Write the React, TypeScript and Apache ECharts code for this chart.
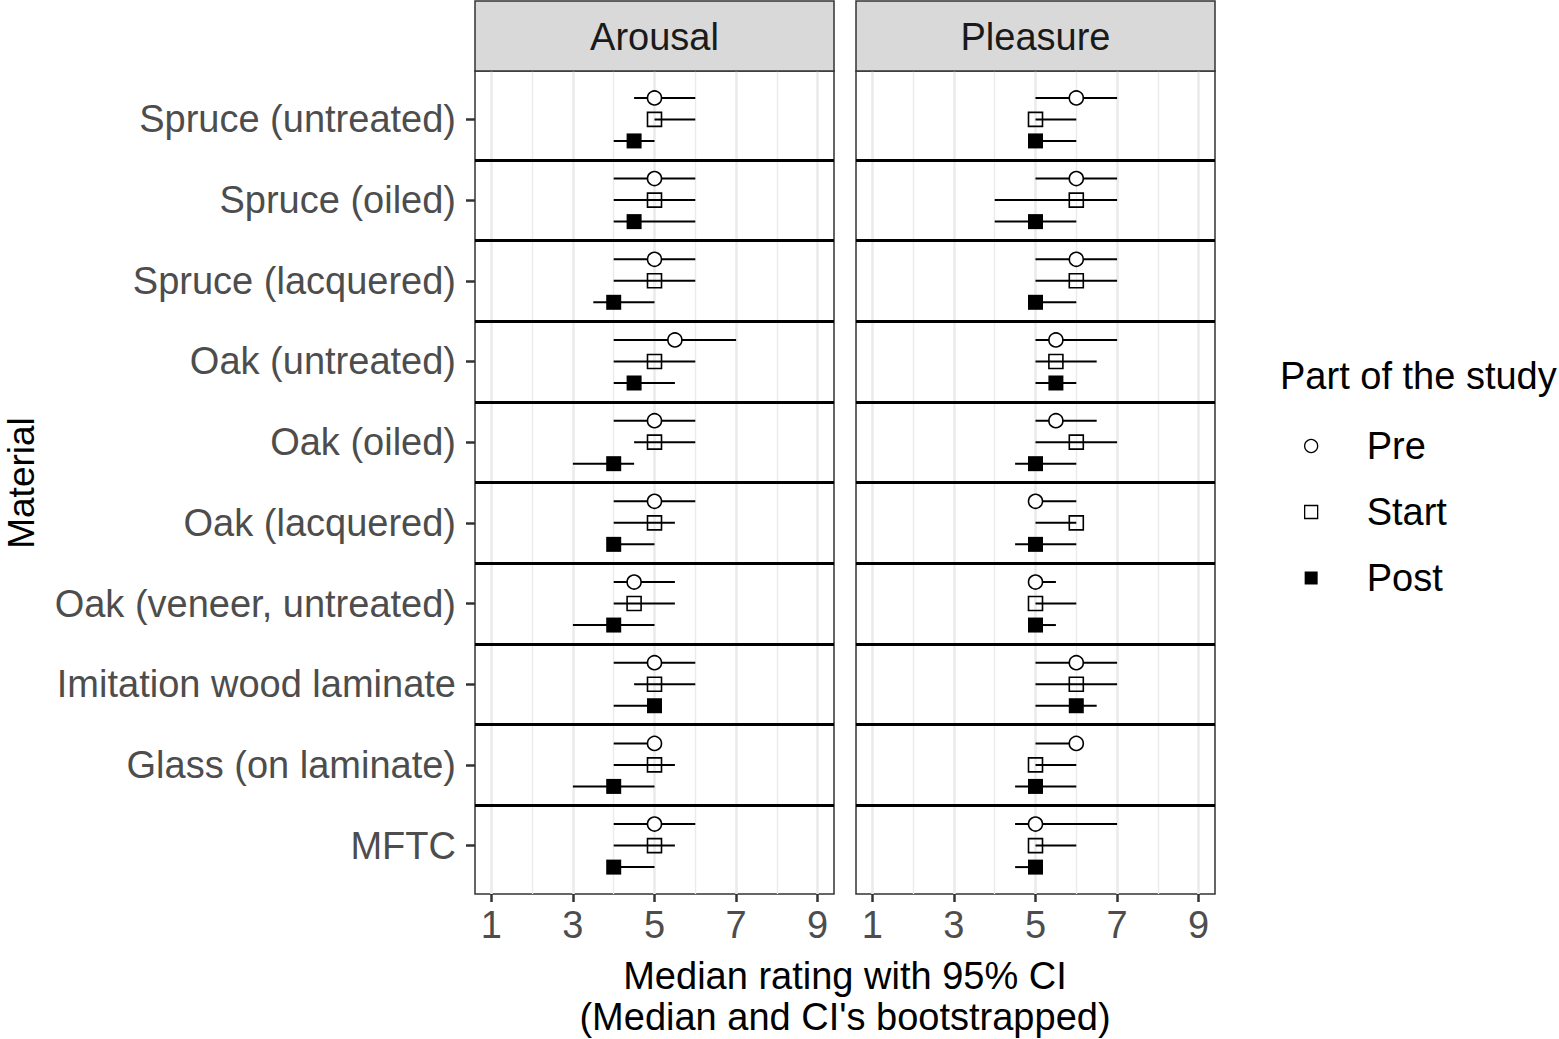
import React, { useEffect, useRef } from "react";
import * as echarts from "echarts";

const FONT = "'Liberation Sans', Arial, sans-serif";
const FS = 38;

const materials = [
  "Spruce (untreated)",
  "Spruce (oiled)",
  "Spruce (lacquered)",
  "Oak (untreated)",
  "Oak (oiled)",
  "Oak (lacquered)",
  "Oak (veneer, untreated)",
  "Imitation wood laminate",
  "Glass (on laminate)",
  "MFTC",
];
const panels = ["Arousal", "Pleasure"];
const groups = ["Pre", "Start", "Post"];
const xTickValues = [1, 3, 5, 7, 9];
const xGridValues = [1, 2, 3, 4, 5, 6, 7, 8, 9];
const rowSeparators = [1.5, 2.5, 3.5, 4.5, 5.5, 6.5, 7.5, 8.5, 9.5];

// [median, lower CI, upper CI] per material
const arousalPre = [[5, 4.5, 6], [5, 4, 6], [5, 4, 6], [5.5, 4, 7], [5, 4, 6], [5, 4, 6], [4.5, 4, 5.5], [5, 4, 6], [5, 4, 5], [5, 4, 6]];
const arousalStart = [[5, 5, 6], [5, 4, 6], [5, 4, 6], [5, 4, 6], [5, 4.5, 6], [5, 4, 5.5], [4.5, 4, 5.5], [5, 4.5, 6], [5, 4, 5.5], [5, 4, 5.5]];
const arousalPost = [[4.5, 4, 5], [4.5, 4, 6], [4, 3.5, 5], [4.5, 4, 5.5], [4, 3, 4.5], [4, 4, 5], [4, 3, 5], [5, 4, 5], [4, 3, 5], [4, 4, 5]];
const pleasurePre = [[6, 5, 7], [6, 5, 7], [6, 5, 7], [5.5, 5, 7], [5.5, 5, 6.5], [5, 5, 6], [5, 5, 5.5], [6, 5, 7], [6, 5, 6], [5, 4.5, 7]];
const pleasureStart = [[5, 5, 6], [6, 4, 7], [6, 5, 7], [5.5, 5, 6.5], [6, 5, 7], [6, 5, 6], [5, 5, 6], [6, 5, 7], [5, 5, 6], [5, 5, 6]];
const pleasurePost = [[5, 5, 6], [5, 4, 6], [5, 5, 6], [5.5, 5, 6], [5, 4.5, 6], [5, 4.5, 6], [5, 5, 5.5], [6, 5, 6.5], [5, 4.5, 6], [5, 4.5, 5]];

const panelData = [
  [arousalPre, arousalStart, arousalPost],
  [pleasurePre, pleasureStart, pleasurePost],
];

const DODGE = 0.8 / 3;
const dodgeOffsets = [-DODGE, 0, DODGE];

const symbolStyles = [
  { symbol: "circle", size: 14, itemStyle: { color: "#ffffff", borderColor: "#000", borderWidth: 1.6, opacity: 1 } },
  { symbol: "rect", size: 14, itemStyle: { color: "rgba(0,0,0,0)", borderColor: "#000", borderWidth: 1.6, opacity: 1 } },
  { symbol: "rect", size: 15, itemStyle: { color: "#000", borderColor: "#000", borderWidth: 0, opacity: 1 } },
];

const GRID_LEFTS = [475, 856];
const GRID_TOP = 71;
const GRID_W = 359;
const GRID_H = 823;

function buildOption() {
  const series: any[] = [];
  panels.forEach((_, p) => {
    // background grid lines
    series.push({
      type: "scatter",
      xAxisIndex: p,
      yAxisIndex: p,
      data: [],
      silent: true,
      z: 1,
      markLine: {
        silent: true,
        z: 1,
        symbol: ["none", "none"],
        label: { show: false },
        emphasis: { disabled: true },
        animation: false,
        data: xGridValues.map((v) => ({
          xAxis: v,
          lineStyle: { color: "#EBEBEB", width: v % 2 === 1 ? 2.6 : 1.4, type: "solid", opacity: 1 },
        })),
      },
    });
    // row separators
    series.push({
      type: "scatter",
      xAxisIndex: p,
      yAxisIndex: p,
      data: [],
      silent: true,
      z: 2,
      markLine: {
        silent: true,
        z: 2,
        symbol: ["none", "none"],
        label: { show: false },
        emphasis: { disabled: true },
        animation: false,
        data: rowSeparators.map((v) => ({
          yAxis: v,
          lineStyle: { color: "#000", width: 3, type: "solid", opacity: 1 },
        })),
      },
    });
    // CI lines
    groups.forEach((g, gi) => {
      const rows = panelData[p][gi];
      series.push({
        type: "custom",
        name: g + "-ci",
        xAxisIndex: p,
        yAxisIndex: p,
        z: 3,
        silent: true,
        encode: { x: [0, 1], y: 2 },
        data: rows.map((r, i) => [r[1], r[2], i + 1 + dodgeOffsets[gi]]),
        renderItem: (params: any, api: any) => {
          const a = api.coord([api.value(0), api.value(2)]);
          const b = api.coord([api.value(1), api.value(2)]);
          return {
            type: "line",
            shape: { x1: a[0], y1: a[1], x2: b[0], y2: b[1] },
            style: { stroke: "#000", lineWidth: 2 },
          };
        },
      });
    });
    // points
    groups.forEach((g, gi) => {
      const rows = panelData[p][gi];
      const st = symbolStyles[gi];
      series.push({
        type: "scatter",
        name: g,
        xAxisIndex: p,
        yAxisIndex: p,
        z: 4,
        symbol: st.symbol,
        symbolSize: st.size,
        itemStyle: st.itemStyle,
        emphasis: { disabled: true },
        data: rows.map((r, i) => [r[0], i + 1 + dodgeOffsets[gi]]),
      });
    });
  });

  const rowPositions = materials.map((_, i) => i + 1);

  return {
    animation: false,
    backgroundColor: "#ffffff",
    textStyle: { fontFamily: FONT },
    grid: GRID_LEFTS.map((left) => ({
      left,
      top: GRID_TOP,
      width: GRID_W,
      height: GRID_H,
      show: true,
      backgroundColor: "#ffffff",
      borderColor: "#333333",
      borderWidth: 1.5,
    })),
    xAxis: GRID_LEFTS.map((_, i) => ({
      gridIndex: i,
      type: "value",
      min: 0.6,
      max: 9.4,
      axisLine: { show: false },
      splitLine: { show: false },
      axisTick: {
        show: true,
        length: 8,
        customValues: xTickValues,
        lineStyle: { color: "#333333", width: 2.5 },
      },
      axisLabel: {
        customValues: xTickValues,
        fontSize: FS,
        color: "#4D4D4D",
        margin: 12,
        fontFamily: FONT,
      },
    })),
    yAxis: GRID_LEFTS.map((_, i) => ({
      gridIndex: i,
      type: "value",
      min: 0.4,
      max: 10.6,
      inverse: true,
      axisLine: { show: false },
      splitLine: { show: false },
      axisTick: {
        show: i === 0,
        length: 9,
        customValues: rowPositions,
        lineStyle: { color: "#333333", width: 2.5 },
      },
      axisLabel: {
        show: i === 0,
        customValues: rowPositions,
        formatter: (v: number) => materials[Math.round(v) - 1] ?? "",
        fontSize: FS,
        color: "#4D4D4D",
        margin: 19,
        fontFamily: FONT,
      },
    })),
    title: [
      {
        text: "Part of the study",
        left: 1280,
        top: 357,
        padding: 0,
        textStyle: { fontSize: FS, fontWeight: "normal", color: "#000", fontFamily: FONT },
      },
    ],
    legend: {
      orient: "vertical",
      left: 1304,
      top: 426,
      itemWidth: 13,
      itemHeight: 13,
      itemGap: 26,
      selectedMode: false,
      padding: 0,
      textStyle: { fontSize: FS, color: "#000", fontFamily: FONT, lineHeight: 40, padding: [0, 0, 0, 44] },
      data: [
        { name: "Pre", icon: "circle", itemStyle: { color: "#fff", borderColor: "#000", borderWidth: 1.3, opacity: 1 } },
        { name: "Start", icon: "rect", itemStyle: { color: "#fff", borderColor: "#000", borderWidth: 1.3, opacity: 1 } },
        { name: "Post", icon: "rect", itemStyle: { color: "#000", borderColor: "#000", borderWidth: 0, opacity: 1 } },
      ],
    },
    graphic: [
      ...panels.flatMap((name, i) => [
        {
          type: "rect",
          shape: { x: GRID_LEFTS[i], y: 1, width: GRID_W, height: 70 },
          style: { fill: "#D9D9D9", stroke: "#333333", lineWidth: 1.5 },
          z: 10,
        },
        {
          type: "text",
          x: GRID_LEFTS[i] + GRID_W / 2,
          y: 37,
          z: 11,
          style: {
            text: name,
            fontSize: FS,
            fontFamily: FONT,
            fill: "#1A1A1A",
            textAlign: "center",
            textVerticalAlign: "middle",
            verticalAlign: "middle",
          },
        },
      ]),
      {
        type: "text",
        x: 845,
        y: 976,
        style: {
          text: "Median rating with 95% CI",
          fontSize: FS,
          fontFamily: FONT,
          fill: "#000",
          textAlign: "center",
          textVerticalAlign: "middle",
          verticalAlign: "middle",
        },
      },
      {
        type: "text",
        x: 845,
        y: 1017,
        style: {
          text: "(Median and CI's bootstrapped)",
          fontSize: FS,
          fontFamily: FONT,
          fill: "#000",
          textAlign: "center",
          textVerticalAlign: "middle",
          verticalAlign: "middle",
        },
      },
      {
        type: "text",
        x: 21,
        y: 483,
        rotation: Math.PI / 2,
        style: {
          text: "Material",
          fontSize: FS - 1,
          fontFamily: FONT,
          fill: "#000",
          textAlign: "center",
          textVerticalAlign: "middle",
          verticalAlign: "middle",
        },
      },
    ],
    series,
  };
}

export default function App() {
  const ref = useRef<HTMLDivElement>(null);
  useEffect(() => {
    if (!ref.current) return;
    const chart = echarts.init(ref.current, null, { renderer: "svg" });
    chart.setOption(buildOption() as any);
    return () => chart.dispose();
  }, []);
  return (
    <div
      ref={ref}
      style={{ position: "absolute", left: 0, top: 0, width: 1559, height: 1039, background: "#fff" }}
    />
  );
}
